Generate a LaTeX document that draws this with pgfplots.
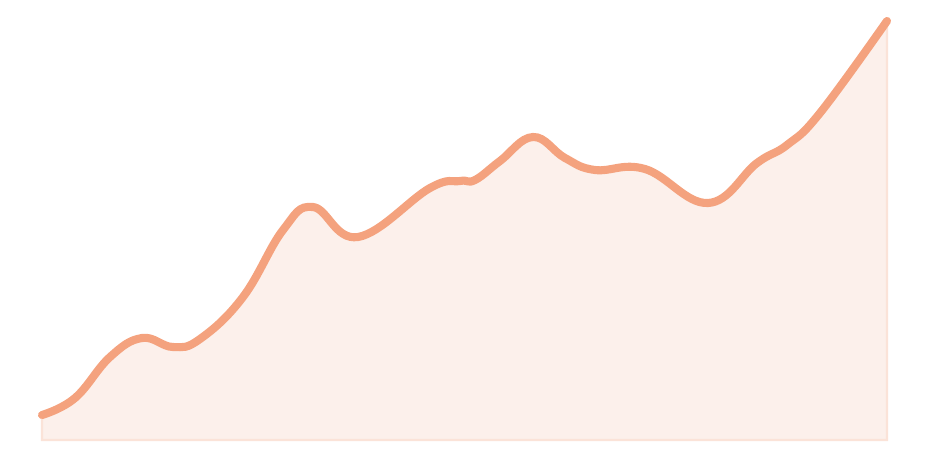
\documentclass[border=0pt]{standalone}
\usepackage{pgfplots}
\pgfplotsset{compat=1.18}
\definecolor{linec}{HTML}{F4A27E}
\definecolor{fillc}{HTML}{FCF0EB}
\definecolor{edgec}{HTML}{FBE3D8}
\pgfplotstableread{
x y
42 25
75 42
110 83
142 102
173 93
200 101
243 143
283 210
313 233
358 203
430 252
460 259
475 260
500 279
533 303
565 282
595 270
645 271
708 237
757 277
787 295
820 327
887 419
}\series
\begin{document}
\begin{tikzpicture}
\begin{axis}[
    width=9.3cm, height=4.62cm, scale only axis,
    xmin=0, xmax=930, ymin=-22, ymax=440,
    hide axis, clip=false,
    ]
% invisible frame, keeps the page at the reference's size
\addplot[draw=none] coordinates {(0,-22) (930,440)};
\addplot[fill=fillc, draw=edgec, line width=0.6pt, smooth, tension=0.7] table {\series} \closedcycle;
\addplot[linec, line width=2.3pt, line cap=round, smooth, tension=0.7] table {\series};
\end{axis}
\end{tikzpicture}
\end{document}
